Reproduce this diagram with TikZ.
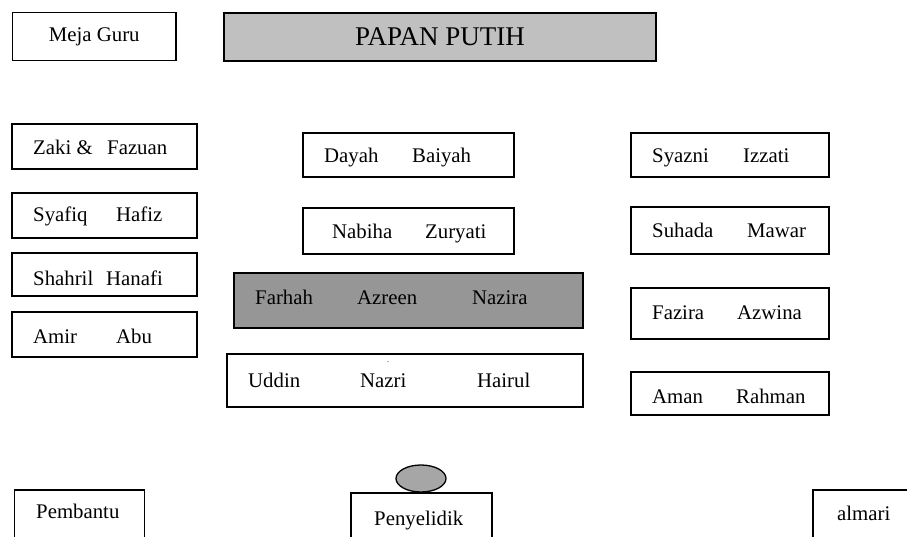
\documentclass[tikz,border=0pt]{standalone}
\usepackage{fontspec}
\setmainfont{Liberation Serif}
\usetikzlibrary{shapes.geometric}

\definecolor{boardgray}{RGB}{192,192,192}
\definecolor{rowgray}{RGB}{150,150,150}
\definecolor{headgray}{RGB}{166,166,166}

\begin{document}
\begin{tikzpicture}[x=1pt,y=-1pt]
% Plan style
\tikzset{
    seat/.style={draw, line width=1.3pt, inner sep=0pt},
    pupil/.style={anchor=base west, inner sep=0pt, font=\rmfamily\fontsize{20.8}{24}\selectfont}
}
\useasboundingbox (0,0) rectangle (907,537);
\clip (0,0) rectangle (907,537);

% Front of the class
\node[seat, minimum width=163.5, minimum height=48, font=\rmfamily\fontsize{20.8}{24}\selectfont] (Meja) at (94.25,36.5){Meja Guru};
\node[seat, fill=boardgray, minimum width=432, minimum height=48, font=\rmfamily\fontsize{27}{30}\selectfont] (Papan) at (440,37){PAPAN PUTIH};

% Left column
\node[seat, minimum width=185, minimum height=45] (Zaki) at (104.5,146.5){};
\node[seat, minimum width=185, minimum height=45] (Syafiq) at (104.5,215.5){};
\node[seat, minimum width=185, minimum height=43] (Shahril) at (104.5,274.5){};
\node[seat, minimum width=185, minimum height=45] (Amir) at (104.5,334.5){};

\node[pupil] (ZakiA) at (33,155){Zaki \&};
\node[pupil] (ZakiB) at (107,155){Fazuan};
\node[pupil] (SyafiqA) at (33,222){Syafiq};
\node[pupil] (SyafiqB) at (116,222){Hafiz};
\node[pupil] (ShahrilA) at (33,285){Shahril};
\node[pupil] (ShahrilB) at (106,285){Hanafi};
\node[pupil] (AmirA) at (33,343){Amir};
\node[pupil] (AmirB) at (116,343){Abu};

% Middle column
\node[seat, minimum width=211, minimum height=44] (Dayah) at (408.5,155){};
\node[seat, minimum width=211, minimum height=46] (Nabiha) at (408.5,231){};
\node[seat, fill=rowgray, minimum width=349, minimum height=55] (Farhah) at (408.5,300.5){};
\node[seat, minimum width=356, minimum height=53] (Uddin) at (405,380.5){};

\node[pupil] (DayahA) at (324,163){Dayah};
\node[pupil] (DayahB) at (412,163){Baiyah};
\node[pupil] (NabihaA) at (332,239){Nabiha};
\node[pupil] (NabihaB) at (425,239){Zuryati};
\node[pupil] (FarhahA) at (255,305){Farhah};
\node[pupil] (FarhahB) at (357,305){Azreen};
\node[pupil] (FarhahC) at (472,305){Nazira};
\node[pupil] (UddinA) at (248,387){Uddin};
\node[pupil] (UddinB) at (360,387){Nazri};
\node[pupil] (UddinC) at (477,387){Hairul};
\node[inner sep=0pt, font=\footnotesize] (Dot) at (388,362){.};

% Right column
\node[seat, minimum width=198, minimum height=44] (Syazni) at (730,155){};
\node[seat, minimum width=198, minimum height=47] (Suhada) at (730,230.5){};
\node[seat, minimum width=198, minimum height=51] (Fazira) at (730,313.5){};
\node[seat, minimum width=198, minimum height=43] (Aman) at (730,393.5){};

\node[pupil] (SyazniA) at (652,163){Syazni};
\node[pupil] (SyazniB) at (743,163){Izzati};
\node[pupil] (SuhadaA) at (652,238){Suhada};
\node[pupil] (SuhadaB) at (747,238){Mawar};
\node[pupil] (FaziraA) at (652,319){Fazira};
\node[pupil] (FaziraB) at (737,319){Azwina};
\node[pupil] (AmanA) at (652,403){Aman};
\node[pupil] (AmanB) at (736,403){Rahman};

% Back of the class
\node[seat, minimum width=130, minimum height=70] (Pembantu) at (79.5,525){};
\node[seat, minimum width=141, minimum height=67] (Penyelidik) at (421.5,526.5){};
\node[seat, minimum width=117, minimum height=70] (Almari) at (871.5,525){};
\node[draw, ellipse, line width=1.3pt, fill=headgray, minimum width=50, minimum height=27, inner sep=0pt] (Kepala) at (421,478.5){};

\node[pupil] (PembantuT) at (36,518){Pembantu};
\node[pupil] (PenyelidikT) at (374,525){Penyelidik};
\node[pupil] (AlmariT) at (837,520){almari};
\end{tikzpicture}
\end{document}
